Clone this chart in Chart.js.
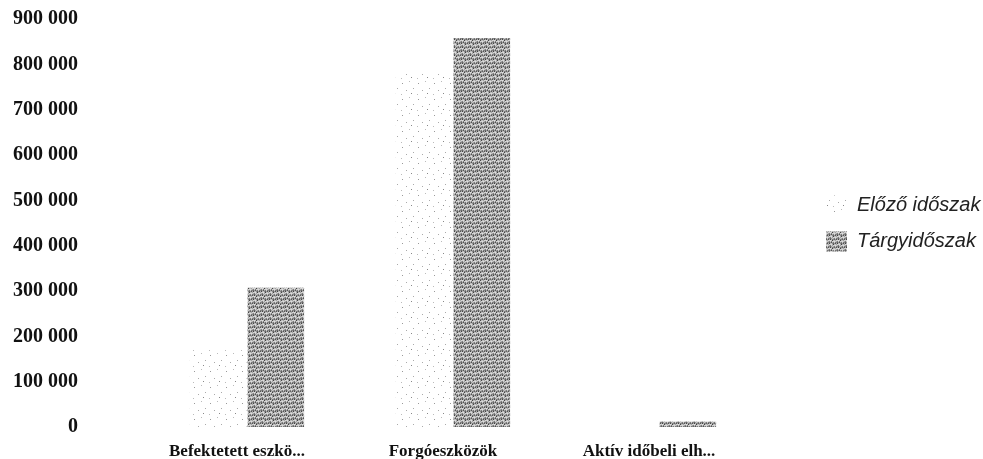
<!DOCTYPE html>
<html>
<head>
<meta charset="utf-8">
<script src="https://cdn.jsdelivr.net/npm/chart.js@4"></script>
<style>
html,body{margin:0;padding:0;background:#fff;}
#wrap{width:983px;height:459px;}
</style>
</head>
<body>
<div id="wrap"><canvas id="c" width="983" height="459"></canvas></div>
<script>
const categories = ['Befektetett eszkö...', 'Forgóeszközök', 'Aktív időbeli elh...'];
const seriesNames = ['Előző időszak', 'Tárgyidőszak'];
const elozoValues = [170000, 780000, 0];
const targyValues = [307000, 858000, 12000];
const yTicks = [0, 100000, 200000, 300000, 400000, 500000, 600000, 700000, 800000, 900000];

function makePattern(size, base, dots) {
  const c = document.createElement('canvas');
  c.width = size; c.height = size;
  const g = c.getContext('2d');
  if (base) { g.fillStyle = base; g.fillRect(0, 0, size, size); }
  dots.forEach(d => { g.fillStyle = d[2]; g.fillRect(d[0], d[1], 1, 1); });
  return g.createPattern(c, 'repeat');
}
const sparseDots = [[2,3,'#999'],[9,1,'#bbb'],[6,10,'#aaa'],[13,8,'#aaa'],[1,14,'#bbb'],[11,13,'#888']];
const denseDots = [];
const pat = ['#444','#c8c8c8','#999','#d4d4d4','#777','#b8b8b8','#a8a8a8','#555','#d0d0d0','#888','#c0c0c0','#7a7a7a','#b0b0b0','#dcdcdc','#666','#a0a0a0','#cfcfcf'];
for (let y = 0; y < 8; y++) for (let x = 0; x < 8; x++) denseDots.push([x, y, pat[(x * 5 + y * 3) % pat.length]]);
const elozoFill = makePattern(16, '#ffffff', sparseDots);
const targyFill = makePattern(8, null, denseDots);

const legendShift = {
  id: 'legendShift',
  afterLayout(chart) {
    const l = chart.legend;
    if (l) { l.top -= 6; l.bottom -= 6; }
  }
};

const ctx = document.getElementById('c').getContext('2d');
new Chart(ctx, {
  type: 'bar',
  plugins: [legendShift],
  data: {
    labels: categories,
    datasets: [
      { label: seriesNames[0], data: elozoValues, backgroundColor: elozoFill, borderWidth: 0, categoryPercentage: 0.56, barPercentage: 0.98 },
      { label: seriesNames[1], data: targyValues, backgroundColor: targyFill, borderWidth: 0, categoryPercentage: 0.56, barPercentage: 0.98 }
    ]
  },
  options: {
    responsive: false,
    animation: false,
    devicePixelRatio: 1,
    layout: { padding: { top: 0, bottom: 0, left: 0, right: 0 } },
    plugins: {
      tooltip: { enabled: false },
      legend: {
        position: 'right',
        align: 'center',
        maxWidth: 173,
        labels: {
          boxWidth: 21, boxHeight: 20, padding: 16,
          color: '#222',
          font: { family: 'Liberation Sans', style: 'italic', size: 20 }
        }
      }
    },
    scales: {
      x: {
        grid: { display: false, drawTicks: false },
        border: { display: false },
        afterFit: s => { s.height = 32; },
        ticks: {
          color: '#111', padding: 14, labelOffset: -10, maxRotation: 0, autoSkip: false,
          font: { family: 'Liberation Serif', weight: 'bold', size: 17 }
        }
      },
      y: {
        min: 0, max: 900000,
        afterBuildTicks: s => { s.ticks = yTicks.map(v => ({ value: v })); },
        afterFit: s => { s.width = 144; s.paddingTop = 19; s.paddingBottom = 10; },
        grid: { display: false, drawTicks: false },
        border: { display: false },
        ticks: {
          color: '#111', padding: 66,
          font: { family: 'Liberation Serif', weight: 'bold', size: 20 },
          callback: v => String(v).replace(/\B(?=(\d{3})+(?!\d))/g, ' ')
        }
      },
      yRight: {
        position: 'right',
        display: true,
        afterFit: s => { s.width = 48; s.paddingTop = 0; s.paddingBottom = 0; },
        grid: { display: false, drawTicks: false },
        border: { display: false },
        ticks: { display: false }
      }
    }
  }
});
</script>
</body>
</html>
